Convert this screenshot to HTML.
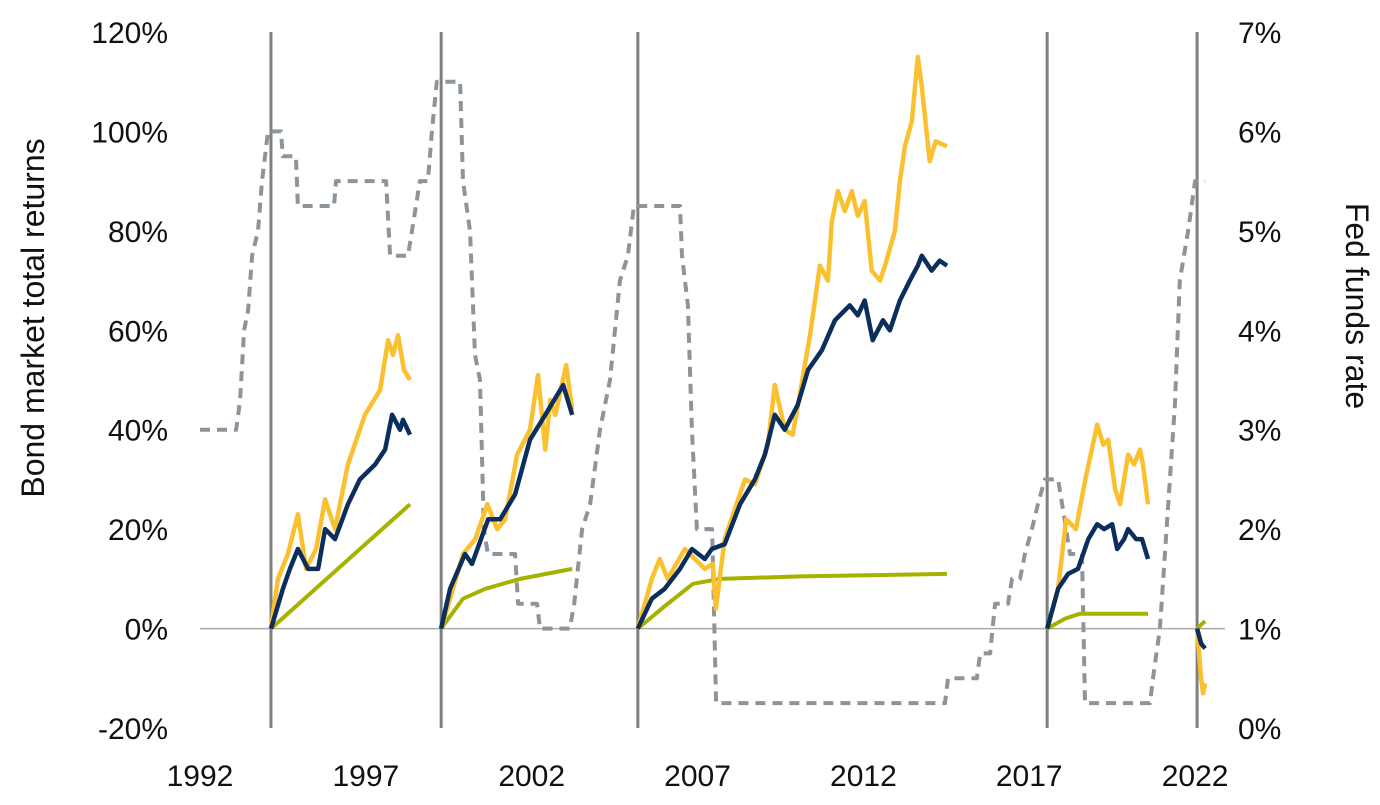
<!DOCTYPE html>
<html><head><meta charset="utf-8"><style>
html,body{margin:0;padding:0;background:#fff;}
svg text{font-family:"Liberation Sans",sans-serif;fill:#111;}
</style></head><body>
<svg width="1380" height="800" viewBox="0 0 1380 800" xmlns="http://www.w3.org/2000/svg">
<g id="grid"></g><g id="series"></g><g id="labels"></g>
</svg>
<script>
const yTicks=[-20,0,20,40,60,80,100,120];
const rTicks=[0,1,2,3,4,5,6,7];
const xTicks=[1992,1997,2002,2007,2012,2017,2022];
const hikeStarts=[1994.14,1999.27,2005.20,2017.54,2022.06];
const fedYears=[1992,1993.09,1993.21,1993.33,1993.45,1993.57,1993.75,1993.87,1994.05,1994.44,1994.50,1994.89,1994.95,1996.04,1996.10,1997.61,1997.73,1998.27,1998.39,1998.63,1998.87,1998.99,1999.14,1999.84,1999.93,2000.14,2000.29,2000.44,2000.56,2000.68,2001.50,2001.59,2002.16,2002.25,2003.15,2003.28,2003.52,2003.76,2004.06,2004.36,2004.66,2004.90,2005.08,2006.47,2006.53,2006.71,2006.83,2006.98,2007.44,2007.56,2014.46,2014.55,2015.42,2015.52,2015.82,2015.97,2016.36,2016.48,2016.72,2016.87,2017.08,2017.26,2017.47,2017.87,2017.99,2018.11,2018.23,2018.59,2018.68,2020.64,2020.73,2020.94,2021.09,2021.24,2021.39,2021.54,2021.79,2022.00,2022.30];
const fedRates=[3,3,3.3,4,4.2,4.75,5,5.5,6,6,5.75,5.75,5.25,5.25,5.5,5.5,4.75,4.75,5,5.5,5.5,6,6.5,6.5,5.5,5,3.75,3.5,2,1.75,1.75,1.25,1.25,1,1,1.25,2,2.25,3,3.5,4.5,4.75,5.25,5.25,4.75,4.25,3,2,2,0.25,0.25,0.5,0.5,0.75,0.75,1.25,1.25,1.5,1.5,1.75,2,2.25,2.5,2.5,2.25,2,1.75,1.75,0.25,0.25,0.5,1,1.75,2.5,3.25,4.5,5,5.5,5.5];
const c1NavyT=[0,.36,.57,.81,1.12,1.42,1.63,1.93,2.32,2.68,3.14,3.44,3.65,3.89,3.98,4.19];
const c1NavyV=[0,8,12,16,12,12,20,18,25,30,33,36,43,40,42,39];
const c1YellowT=[0,.21,.51,.81,1.06,1.36,1.63,1.93,2.32,2.83,3.29,3.53,3.68,3.83,4.01,4.19];
const c1YellowV=[0,10,15,23,12,16,26,20,33,43,48,58,55,59,52,50];
const c1GreenT=[0,4.19];
const c1GreenV=[0,25];
const c2NavyT=[0,.27,.72,.93,1.42,1.78,2.23,2.68,3.14,3.68,3.95];
const c2NavyV=[0,8,15,13,22,22,27,38,43,49,43];
const c2YellowT=[0,.27,.66,1.03,1.39,1.69,1.93,2.29,2.68,2.92,3.14,3.29,3.44,3.77,3.95];
const c2YellowV=[0,6,15,18,25,20,22,35,40,51,36,46,43,53,44];
const c2GreenT=[0,.66,1.33,2.38,3.95];
const c2GreenV=[0,6,8,10,12];
const c3NavyT=[0,.42,.81,1.27,1.63,2.02,2.23,2.62,3.08,3.53,3.83,4.13,4.43,4.82,5.13,5.55,5.94,6.39,6.63,6.84,7.08,7.39,7.60,7.90,8.20,8.44,8.56,8.86,9.10,9.32];
const c3NavyV=[0,6,8,12,16,14,16,17,25,30,35,43,40,45,52,56,62,65,63,66,58,62,60,66,70,73,75,72,74,73];
const c3YellowT=[0,.42,.66,.90,1.42,2.02,2.26,2.35,2.62,3.23,3.53,3.92,4.13,4.43,4.67,4.88,5.19,5.49,5.73,5.85,6.03,6.24,6.45,6.63,6.84,7.05,7.30,7.45,7.75,7.90,8.05,8.26,8.44,8.56,8.80,8.98,9.32];
const c3YellowV=[0,10,14,10,16,12,13,4,18,30,29,37,49,40,39,47,59,73,70,82,88,84,88,83,86,72,70,73,80,90,97,102,115,109,94,98,97];
const c3GreenT=[0,.81,1.66,2.47,4.88,9.32];
const c3GreenV=[0,4.5,9,10,10.5,11];
const c4NavyT=[0,.33,.63,.93,1.24,1.51,1.72,1.96,2.11,2.32,2.44,2.68,2.86,3.04];
const c4NavyV=[0,8,11,12,18,21,20,21,16,18,20,18,18,14];
const c4YellowT=[0,.33,.57,.87,1.15,1.51,1.69,1.84,2.05,2.20,2.44,2.62,2.80,2.89,3.04];
const c4YellowV=[0,8,22,20,30,41,37,38,28,25,35,33,36,33,25];
const c4GreenT=[0,.54,.99,3.04];
const c4GreenV=[0,2,3,3];
const c5NavyT=[0,.12,.24];
const c5NavyV=[0,-3,-4];
const c5YellowT=[0,.12,.18,.24];
const c5YellowV=[0,-10,-13,-11];
const c5GreenT=[0,.24];
const c5GreenV=[0,1.5];

const NS='http://www.w3.org/2000/svg';
const X0=200,PXY=33.17,Y0=728,PXP=4.9714;
const x=t=>X0+(t-1992)*PXY;
const yL=v=>Y0-(v+20)*PXP;
const yR=v=>Y0-v*(696/7);
function mk(tag,attrs,parent){const e=document.createElementNS(NS,tag);for(const k in attrs)e.setAttribute(k,attrs[k]);parent.appendChild(e);return e;}
const grid=document.getElementById('grid'),ser=document.getElementById('series'),lab=document.getElementById('labels');
let zl=mk('line',{x1:200,x2:1225,y1:yL(0),y2:yL(0),stroke:'#aaa','stroke-width':1.5},grid);


hikeStarts.forEach(h=>{const l=mk('line',{x1:x(h),x2:x(h),y1:32,y2:728,stroke:'#7f7f7f','stroke-width':3},grid);

});
yTicks.forEach(v=>{const t=mk('text',{x:168,y:yL(v)+11,'text-anchor':'end','font-size':30},lab);t.textContent=v+'%';

});
rTicks.forEach(v=>{const t=mk('text',{x:1238,y:yR(v)+11,'font-size':30},lab);t.textContent=v+'%';

});
xTicks.forEach(v=>{const t=mk('text',{x:x(v),y:786,'text-anchor':'middle','font-size':30},lab);t.textContent=v;

});
let lt=mk('text',{x:0,y:0,'text-anchor':'middle','font-size':32,transform:'translate(44,318) rotate(-90)'},lab);lt.textContent='Bond market total returns';


let rt=mk('text',{x:0,y:0,'text-anchor':'middle','font-size':32,transform:'translate(1346,306) rotate(90)'},lab);rt.textContent='Fed funds rate';


function line(pts,color,w,name,dash){const p=mk('polyline',{points:pts.map(q=>q[0].toFixed(1)+','+q[1].toFixed(1)).join(' '),fill:'none',stroke:color,'stroke-width':w,'stroke-linejoin':'round'},ser);if(dash)p.setAttribute('stroke-dasharray',dash);

}
line(fedYears.map((t,i)=>[x(t),yR(fedRates[i])]),'#8c949c',4,'fed-funds-rate-line','10,7');
const cycles=[[c1NavyT,c1NavyV,c1YellowT,c1YellowV,c1GreenT,c1GreenV],[c2NavyT,c2NavyV,c2YellowT,c2YellowV,c2GreenT,c2GreenV],[c3NavyT,c3NavyV,c3YellowT,c3YellowV,c3GreenT,c3GreenV],[c4NavyT,c4NavyV,c4YellowT,c4YellowV,c4GreenT,c4GreenV],[c5NavyT,c5NavyV,c5YellowT,c5YellowV,c5GreenT,c5GreenV]];
cycles.forEach((c,i)=>{const s=hikeStarts[i];
line(c[4].map((t,j)=>[x(s+t),yL(c[5][j])]),'#a6b200',4,'short-bond-returns-cycle-'+(i+1));
line(c[2].map((t,j)=>[x(s+t),yL(c[3][j])]),'#fbc02f',4.5,'long-bond-returns-cycle-'+(i+1));
line(c[0].map((t,j)=>[x(s+t),yL(c[1][j])]),'#0b2e5c',4.5,'aggregate-bond-returns-cycle-'+(i+1));
});
</script>
</body></html>
